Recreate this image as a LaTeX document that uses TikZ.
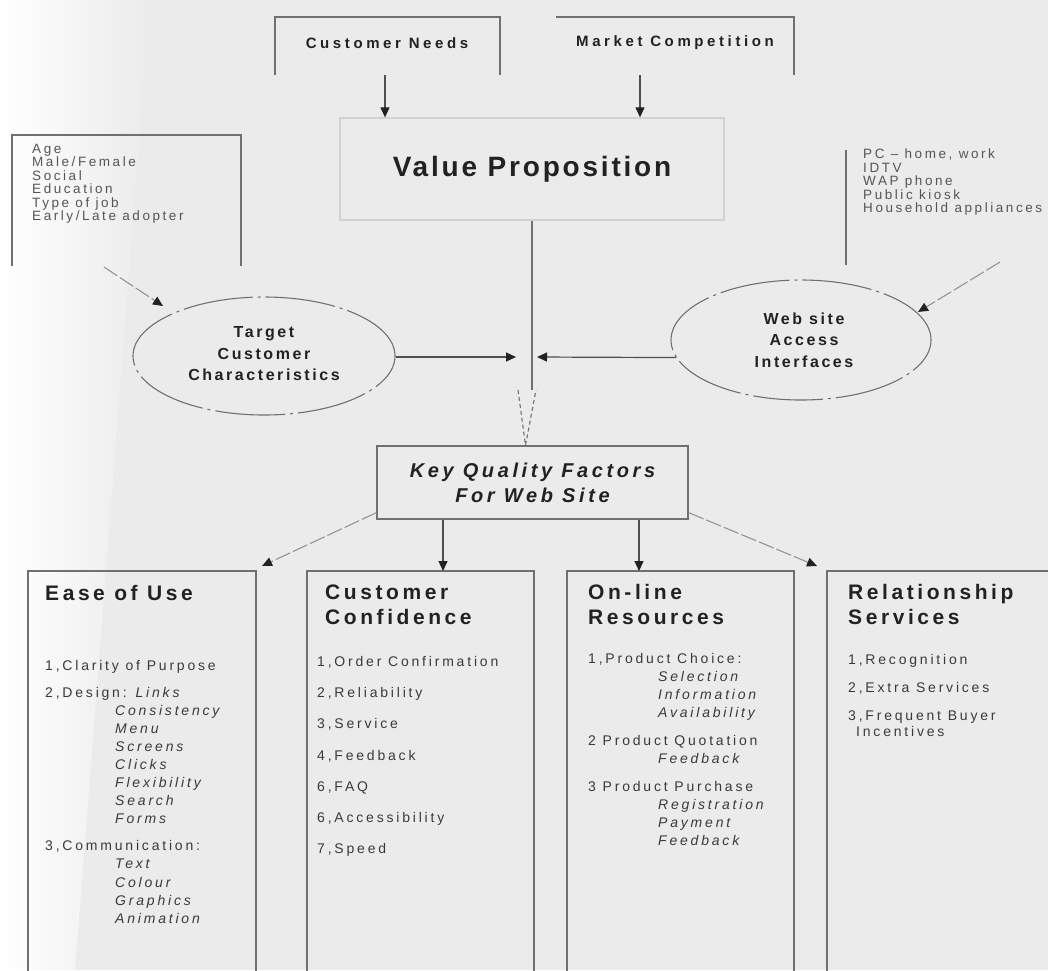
\documentclass[tikz,border=0pt]{standalone}
\usepackage{fontspec}
\setmainfont{Liberation Sans}
\newfontfamily\ftS{Liberation Sans}[LetterSpace=19]
\newfontfamily\ftI{Liberation Sans}[LetterSpace=20]
\newfontfamily\ftT{Liberation Sans}[LetterSpace=17]
\newfontfamily\ftE{Liberation Sans}[LetterSpace=16]
\newfontfamily\ftB{Liberation Sans}[LetterSpace=24]
\newfontfamily\ftK{Liberation Sans}[LetterSpace=18]
\newfontfamily\ftV{Liberation Sans}[LetterSpace=10]
\usetikzlibrary{shapes.geometric,arrows.meta,calc}

\definecolor{bgc}{HTML}{EBEBEB}
\definecolor{inkc}{HTML}{222222}
\definecolor{itemc}{HTML}{3A3A3A}
\definecolor{softc}{HTML}{555555}
\definecolor{linec}{HTML}{707070}
\definecolor{faintc}{HTML}{D2D2D2}

\begin{document}
\begin{tikzpicture}[x=1pt,y=-1pt,
  frame/.style={draw=none,inner sep=0pt,outer sep=0pt,anchor=north west},
  side/.style={draw=linec,line width=1.3pt},
  txt/.style={inner sep=0pt,anchor=north west,align=left},
  arr/.style={draw=inkc!80,line width=1.2pt,-{Triangle[length=10pt,width=9pt,color=inkc]}},
  farr/.style={draw=linec!75,line width=1.1pt,dash pattern=on 16pt off 3pt,
               -{Triangle[length=10pt,width=9pt,color=inkc]}},
  oval/.style={ellipse,draw=linec,line width=1.1pt,
               dash pattern=on 70pt off 5pt on 3pt off 5pt,inner sep=0pt},
  small/.style={txt,text=softc,font=\ftS\fontsize{13.5}{13.4}\selectfont},
  item/.style={txt,text=itemc,font=\ftI\fontsize{14}{18.1}\selectfont},
  head/.style={txt,text=inkc,font=\ftT\bfseries\fontsize{21}{25}\selectfont},
  ovaltext/.style={align=center,inner sep=0pt,text=inkc,
                   font=\ftE\bfseries\fontsize{16}{21.5}\selectfont}
]
\path[use as bounding box] (0,0) rectangle (1048,970);
\clip (0,0) rectangle (1048,970);

% paper
\fill[bgc] (0,0) rectangle (1048,970);
\shade[left color=white,right color=bgc] (0,0) -- (150,0) -- (75,970) -- (0,970) -- cycle;

% ---- top inputs ----
\node[frame,minimum width=225pt,minimum height=58pt] (cn) at (275,17) {};
\draw[side] (cn.south west) -- (cn.north west) -- (cn.north east) -- (cn.south east);
\node[text=inkc,inner sep=0pt,font=\ftB\bfseries\fontsize{15}{16}\selectfont] (cnt) at (387,43) {Customer Needs};

\node[frame,minimum width=238pt,minimum height=58pt] (mc) at (556,17) {};
\draw[side] (mc.north west) -- (mc.north east) -- (mc.south east);
\node[text=inkc,inner sep=0pt,font=\ftB\bfseries\fontsize{15}{16}\selectfont] (mct) at (675,43) {Market Competition};

% ---- value proposition ----
\node[draw=faintc,line width=1.3pt,minimum width=384pt,minimum height=102pt,inner sep=0pt,
      text=inkc,font=\ftV\bfseries\fontsize{28}{30}\selectfont] (vp) at (532,169) {Value Proposition};

\coordinate (cnout) at (385,75);
\coordinate (mcout) at (640,75);
\draw[arr] (cnout) -- (cnout |- vp.north);
\draw[arr] (mcout) -- (mcout |- vp.north);

% ---- customer attributes ----
\node[frame,minimum width=229pt,minimum height=131pt] (age) at (12,135) {};
\draw[side] (age.south west) -- (age.north west) -- (age.north east) -- (age.south east);
\node[small] (agetxt) at (32,144) {Age\\Male/Female\\Social\\Education\\Type of job\\Early/Late adopter};

% ---- access devices ----
\node[frame,minimum width=210pt,minimum height=115pt] (pc) at (846,150) {};
\draw[side] (pc.north west) -- (pc.south west);
\node[small] (pctxt) at (863,149) {PC – home, work\\IDTV\\WAP phone\\Public kiosk\\Household appliances};

% ---- ovals ----
\node[oval,minimum width=262pt,minimum height=118pt] (tc) at (264,356) {};
\node[ovaltext] (tct) at (264,354) {Target\\Customer\\Characteristics};
\node[oval,minimum width=260pt,minimum height=120pt] (wa) at (801,340) {};
\node[ovaltext] (wat) at (804,340) {Web site\\Access\\Interfaces};

\coordinate (agesrc) at (104,267);
\coordinate (websrc) at (1000,262);
\draw[farr] (agesrc) -- ($(tc.center)+(-101,-50)$);
\draw[farr] (websrc) -- ($(wa.center)+(117,-28)$);

% ---- central trunk ----
\coordinate (vend) at (532,390);
\coordinate (jl) at (516,357);
\coordinate (jr) at (537,357);
\draw[draw=linec,line width=1.3pt] (vp.south) -- (vend);
\draw[arr] (tc.east |- jl) -- (jl);
\draw[arr] (wa.188) -- (jr);

% ---- key quality factors ----
\node[draw=linec,line width=1.3pt,minimum width=311pt,minimum height=73pt,inner sep=0pt,
      align=center,text=inkc,font=\ftK\bfseries\itshape\fontsize{20}{25}\selectfont]
      (kq) at (532.5,482.5) {Key Quality Factors\\For Web Site};

\coordinate (vl) at (518,390);
\coordinate (vr) at (536,390);
\draw[draw=linec,line width=1.1pt,dash pattern=on 4pt off 3pt] (vl) -- ([xshift=-7pt]kq.north) -- (vr);

% ---- four factor columns ----
\node[frame,minimum width=228pt,minimum height=420pt] (eu) at (28,571) {};
\node[frame,minimum width=227pt,minimum height=420pt] (cc) at (307,571) {};
\node[frame,minimum width=227pt,minimum height=420pt] (ol) at (567,571) {};
\node[frame,minimum width=240pt,minimum height=420pt] (rs) at (827,571) {};
\foreach \b in {eu,cc,ol,rs}
  \draw[side] (\b.south west) -- (\b.north west) -- (\b.north east) -- (\b.south east);

\draw[farr] ([yshift=7pt]kq.south west) -- ([xshift=6pt,yshift=5pt]eu.north east);
\draw[arr] ([xshift=-89.5pt]kq.south) -- ([xshift=-89.5pt]kq.south |- cc.north);
\draw[arr] ([xshift=106.5pt]kq.south) -- ([xshift=106.5pt]kq.south |- ol.north);
\draw[farr] ([yshift=7pt]kq.south east) -- ([xshift=-10pt,yshift=5pt]rs.north west);

% column texts
\node[head] (euh) at (45,585.2) {Ease of Use};
\node[item] (eui) at (45,659.8) {1,Clarity of Purpose\\[8.9pt]
  2,Design: \textit{Links}\\
  \hspace*{70pt}\textit{Consistency}\\
  \hspace*{70pt}\textit{Menu}\\
  \hspace*{70pt}\textit{Screens}\\
  \hspace*{70pt}\textit{Clicks}\\
  \hspace*{70pt}\textit{Flexibility}\\
  \hspace*{70pt}\textit{Search}\\
  \hspace*{70pt}\textit{Forms}\\[8.9pt]
  3,Communication:\\
  \hspace*{70pt}\textit{Text}\\
  \hspace*{70pt}\textit{Colour}\\
  \hspace*{70pt}\textit{Graphics}\\
  \hspace*{70pt}\textit{Animation}};

\node[head] (cch) at (325,584.2) {Customer\\Confidence};
\node[item,font=\ftI\fontsize{14}{31.3}\selectfont] (cci) at (317,655.8) {1,Order Confirmation\\2,Reliability\\3,Service\\4,Feedback\\6,FAQ\\6,Accessibility\\7,Speed};

\node[head] (olh) at (588,584.2) {On-line\\Resources};
\node[item,font=\ftI\fontsize{14}{18}\selectfont] (oli) at (588,652.8) {1,Product Choice:\\
  \hspace*{70pt}\textit{Selection}\\
  \hspace*{70pt}\textit{Information}\\
  \hspace*{70pt}\textit{Availability}\\[10pt]
  2 Product Quotation\\
  \hspace*{70pt}\textit{Feedback}\\[10pt]
  3 Product Purchase\\
  \hspace*{70pt}\textit{Registration}\\
  \hspace*{70pt}\textit{Payment}\\
  \hspace*{70pt}\textit{Feedback}};

\node[head] (rsh) at (848,584.2) {Relationship\\Services};
\node[item,font=\ftI\fontsize{14}{16}\selectfont] (rsi) at (848,653.8) {1,Recognition\\[12pt]2,Extra Services\\[12pt]3,Frequent Buyer\\\hspace*{8pt}Incentives};
\end{tikzpicture}
\end{document}
